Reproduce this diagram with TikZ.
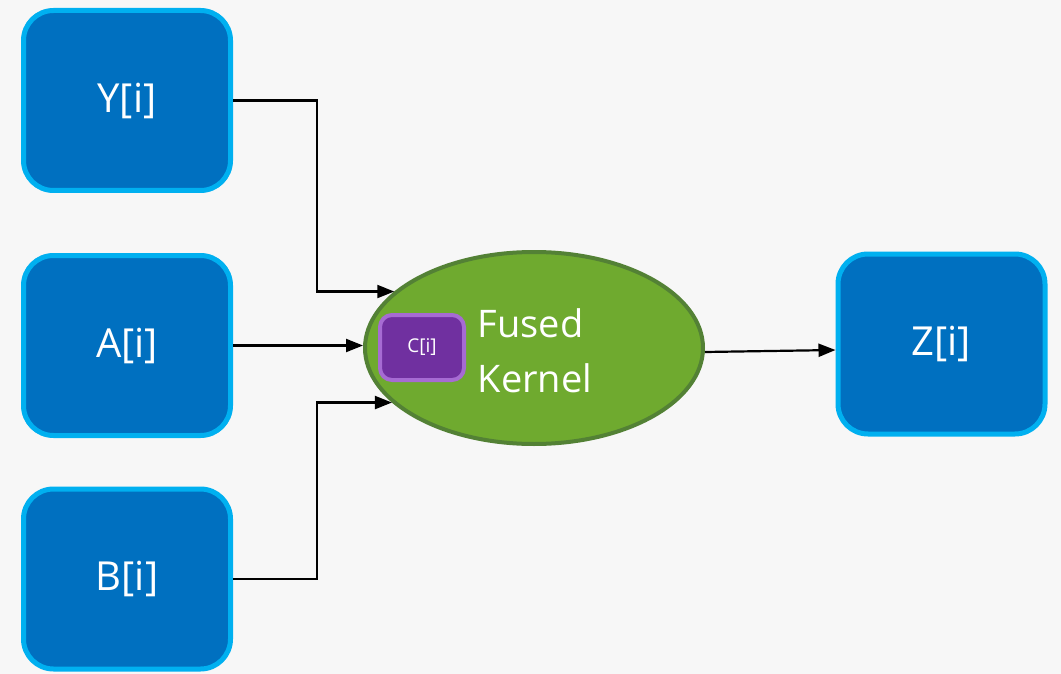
\documentclass[tikz,border=0pt]{standalone}
\usepackage{fontspec}
\setmainfont{Open Sans}
\usetikzlibrary{arrows.meta,shapes.geometric}
\definecolor{bg}{HTML}{F7F7F7}
\definecolor{boxfill}{HTML}{0070C0}
\definecolor{boxedge}{HTML}{00B0F0}
\definecolor{kfill}{HTML}{6FAA2F}
\definecolor{kedge}{HTML}{538135}
\definecolor{cfill}{HTML}{7030A0}
\definecolor{cedge}{HTML}{A66BD3}
\tikzset{
  databox/.style={draw=boxedge, fill=boxfill, line width=5pt, rounded corners=30pt,
    minimum width=207pt, minimum height=180pt, inner sep=0pt, text=white,
    font=\fontsize{40}{48}\selectfont},
  kernel/.style={ellipse, draw=kedge, fill=kfill, line width=4pt,
    minimum width=338pt, minimum height=192pt, inner sep=0pt},
  cbox/.style={draw=cedge, fill=cfill, line width=4pt, rounded corners=12pt,
    minimum width=84pt, minimum height=65pt, inner sep=0pt, text=white,
    font=\fontsize{19}{23}\selectfont},
  ktext/.style={text=white, align=left, font=\fontsize{38}{55}\selectfont, inner sep=0pt},
  arr/.style={line width=2.2pt, -{Triangle[length=17pt,width=13pt]}},
}
\begin{document}
\begin{tikzpicture}[x=1pt,y=-1pt]
\fill[bg] (0,0) rectangle (1061,674);
\useasboundingbox (0,0) rectangle (1061,674);
\node[databox] (Y) at (127,100.5) {Y[i]};
\node[databox] (A) at (127,345.5) {A[i]};
\node[databox] (B) at (127,579) {B[i]};
\node[databox] (Z) at (941.5,344) {Z[i]};
\node[kernel] (K) at (534,348) {};
\node[cbox] (C) at (422,347.5) {C[i]};
\node[ktext] (KT) at (535,351) {Fused\\Kernel};
\draw[arr] (Y.east) -- ++(84,0) |- (K.158.6);
\draw[arr] (A.east) -- (K.west |- A.east);
\draw[arr] (B.east) -- ++(84,0) |- (K.201.4);
\draw[arr] (K.east |- 0,352) -- (Z.west |- 0,350);
\end{tikzpicture}
\end{document}
